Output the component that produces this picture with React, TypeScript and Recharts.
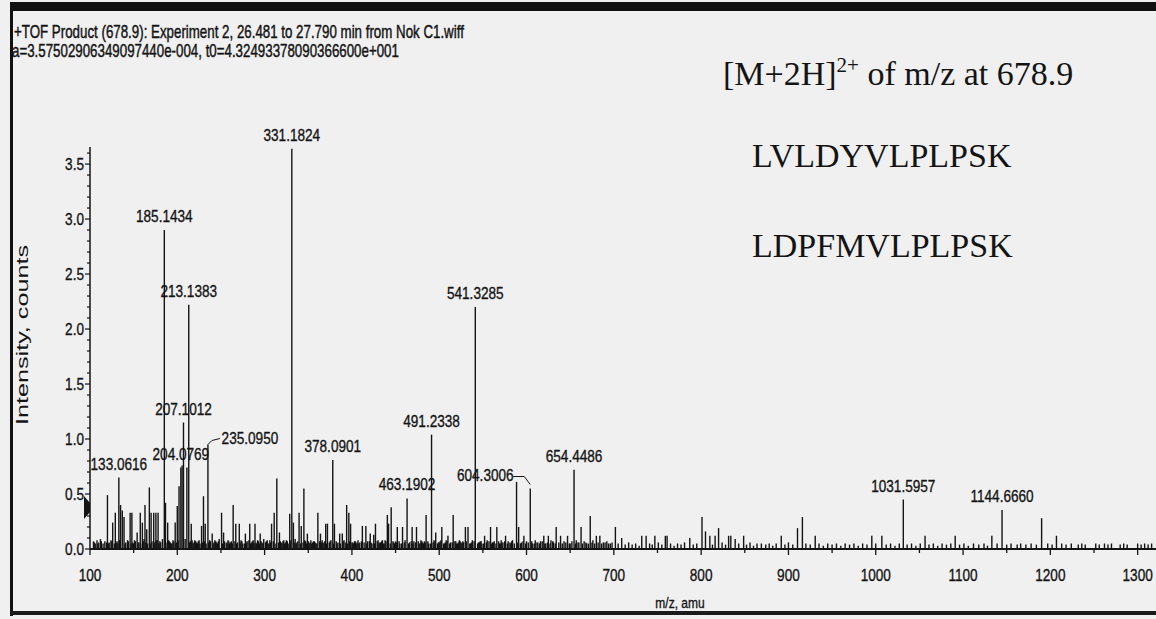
import React from "react";
import { ComposedChart, Bar, XAxis, YAxis, LabelList } from "recharts";

// labelled fragment ions (m/z, intensity in counts)
const labelledMz = [
  133.0616, 185.1434, 204.0769, 207.1012, 213.1383, 235.095, 331.1824, 378.0901,
  463.1902, 491.2338, 541.3285, 604.3006, 654.4486, 1031.5957, 1144.666,
];
const labelledIntensity = [
  0.65, 2.9, 0.74, 1.15, 2.22, 0.95, 3.64, 0.81, 0.46, 1.04, 2.2, 0.55, 0.72, 0.45, 0.355,
];
const labelledText = [
  "133.0616", "185.1434", "204.0769", "207.1012", "213.1383", "235.0950", "331.1824", "378.0901",
  "463.1902", "491.2338", "541.3285", "604.3006", "654.4486", "1031.5957", "1144.6660",
];

// unlabelled peaks [m/z, intensity]
const minorPeaks: [number, number][] = [
  [120, 0.49], [126, 0.24], [129, 0.33], [135, 0.4], [137, 0.35], [139, 0.29], [146, 0.33],
  [148, 0.33], [154, 0.15], [157.6, 0.33], [160, 0.24], [163, 0.4], [165, 0.18], [168, 0.56],
  [170, 0.33], [173, 0.33], [175.5, 0.33], [178, 0.33], [186.5, 0.42], [189, 0.24], [197.6, 0.24],
  [200, 0.39], [202, 0.57], [205.5, 0.76], [211, 0.74], [216, 0.23], [227.8, 0.21], [230, 0.48],
  [232, 0.23], [240, 0.14], [250.7, 0.33], [253, 0.15], [264, 0.4], [267, 0.23], [271, 0.23],
  [278, 0.14], [283, 0.23], [289, 0.23], [295, 0.14], [308, 0.23], [311, 0.33], [314, 0.64],
  [317, 0.15], [328.8, 0.32], [333, 0.24], [339.5, 0.33], [342, 0.21], [345, 0.55], [349, 0.14],
  [361, 0.33], [364, 0.14], [370, 0.23], [372, 0.23], [380, 0.23], [386, 0.14], [389, 0.14],
  [394, 0.4], [396.5, 0.33], [398.5, 0.23], [412, 0.21], [416, 0.21], [421, 0.14], [425, 0.13],
  [427, 0.23], [440.6, 0.31], [442, 0.23], [445, 0.38], [452, 0.2], [458, 0.2], [469, 0.2],
  [474, 0.2], [485, 0.31], [496, 0.15], [503, 0.2], [510, 0.12], [516, 0.31], [530, 0.2],
  [533, 0.2], [552, 0.12], [558.8, 0.2], [566, 0.2], [576, 0.12], [588.6, 0.61], [591, 0.2],
  [597, 0.12], [619.8, 0.12], [625, 0.12], [634, 0.2], [639, 0.12], [647, 0.12], [662.5, 0.2],
  [673, 0.3], [680, 0.12], [684, 0.12], [701.8, 0.2], [709, 0.1], [732, 0.12], [737, 0.12],
  [747, 0.12], [759, 0.12], [761, 0.12], [787, 0.1], [801, 0.29], [805, 0.16], [810, 0.12],
  [816, 0.12], [820, 0.19], [831.5, 0.12], [834, 0.12], [839, 0.09], [848.7, 0.12], [869, 0.05],
  [891.8, 0.12], [910.4, 0.19], [916, 0.29], [930.7, 0.12], [995.5, 0.12], [1007, 0.12],
  [1056.5, 0.12], [1091, 0.12], [1133, 0.12], [1190, 0.28], [1207, 0.12],
];

// baseline noise [m/z, intensity]
const noisePeaks: [number, number][] = [
  [104, 0.07], [106, 0.05], [108, 0.08], [110, 0.06], [112, 0.09], [115, 0.05], [117, 0.07],
  [122, 0.06], [124, 0.08], [128, 0.05], [131, 0.07], [141, 0.06], [143, 0.08], [150, 0.05],
  [152, 0.07], [156, 0.06], [162, 0.09], [166, 0.05], [171, 0.07], [177, 0.08], [181, 0.06],
  [183, 0.09], [191, 0.07], [193, 0.05], [195, 0.08], [199, 0.06], [209, 0.09], [215, 0.07],
  [218, 0.05], [220, 0.08], [222, 0.06], [224, 0.07], [226, 0.05], [237, 0.08], [242, 0.06],
  [244, 0.07], [246, 0.05], [248, 0.09], [256, 0.06], [258, 0.08], [260, 0.05], [262, 0.07],
  [269, 0.06], [273, 0.08], [275, 0.05], [280, 0.07], [285, 0.06], [287, 0.08], [291, 0.05],
  [293, 0.07], [297, 0.06], [299, 0.09], [302, 0.07], [304, 0.05], [306, 0.08], [319, 0.06],
  [321, 0.07], [323, 0.05], [325, 0.08], [335, 0.09], [337, 0.06], [347, 0.07], [351, 0.05],
  [353, 0.08], [355, 0.06], [357, 0.07], [359, 0.05], [366, 0.08], [368, 0.06], [375, 0.07],
  [383, 0.05], [391, 0.08], [401, 0.06], [403, 0.07], [405, 0.05], [407, 0.08], [409, 0.06],
  [418, 0.07], [423, 0.05], [430, 0.08], [432, 0.06], [434, 0.07], [436, 0.05], [438, 0.08],
  [448, 0.06], [450, 0.07], [455, 0.05], [461, 0.08], [466, 0.06], [471, 0.07], [477, 0.05],
  [479, 0.08], [481, 0.06], [483, 0.07], [488, 0.05], [494, 0.08], [499, 0.06], [501, 0.07],
  [506, 0.05], [508, 0.08], [513, 0.06], [519, 0.07], [521, 0.05], [523, 0.08], [525, 0.06],
  [527, 0.07], [536, 0.05], [538, 0.08], [545, 0.06], [547, 0.07], [549, 0.05], [555, 0.08],
  [561, 0.06], [563, 0.07], [569, 0.05], [571, 0.08], [573, 0.06], [579, 0.07], [582, 0.05],
  [584, 0.08], [594, 0.06], [600, 0.07], [607, 0.05], [610, 0.08], [613, 0.06], [616, 0.07],
  [622, 0.05], [628, 0.08], [631, 0.06], [643, 0.07], [650, 0.05], [657, 0.08], [660, 0.06],
  [666, 0.07], [669, 0.05], [676, 0.08], [688, 0.06], [692, 0.07], [696, 0.05],
  [705, 0.05], [713, 0.04], [717, 0.06], [721, 0.04], [725, 0.05], [729, 0.03], [741, 0.05],
  [744, 0.04], [751, 0.06], [755, 0.04], [765, 0.05], [769, 0.03], [773, 0.05], [777, 0.04],
  [781, 0.06], [791, 0.04], [795, 0.05], [813, 0.04], [824, 0.06], [828, 0.04], [843, 0.05],
  [852, 0.04], [856, 0.06], [860, 0.03], [864, 0.05], [874, 0.04], [878, 0.05], [882, 0.03],
  [886, 0.05], [896, 0.04], [900, 0.06], [905, 0.04], [920, 0.05], [925, 0.04], [935, 0.05],
  [940, 0.03], [945, 0.05], [950, 0.04], [955, 0.05], [960, 0.03], [965, 0.05], [970, 0.04],
  [975, 0.05], [980, 0.03], [985, 0.05], [990, 0.04], [1000, 0.05], [1012, 0.04], [1017, 0.05],
  [1022, 0.03], [1027, 0.05], [1036, 0.04], [1041, 0.05], [1046, 0.03], [1051, 0.05],
  [1061, 0.04], [1066, 0.05], [1071, 0.03], [1076, 0.05], [1081, 0.04], [1086, 0.05],
  [1096, 0.04], [1101, 0.05], [1106, 0.03], [1112, 0.05], [1118, 0.04], [1124, 0.05],
  [1128, 0.03], [1139, 0.05], [1150, 0.04], [1155, 0.05], [1162, 0.04], [1166, 0.05],
  [1172, 0.04], [1178, 0.05], [1184, 0.04], [1197, 0.05], [1202, 0.04], [1213, 0.05],
  [1218, 0.04], [1224, 0.05], [1232, 0.04], [1236, 0.05], [1240, 0.04], [1252, 0.05],
  [1256, 0.04], [1262, 0.05], [1266, 0.04], [1270, 0.05], [1280, 0.04], [1284, 0.05],
  [1288, 0.04], [1300, 0.05], [1304, 0.04], [1308, 0.05], [1312, 0.04], [1316, 0.05],
];

// denser noise in the low-mass region
const lowMassNoise: [number, number][] = [
  [105, 0.06], [109, 0.05], [113, 0.07], [119, 0.06], [121, 0.05], [125, 0.07], [130, 0.06],
  [132, 0.05], [134, 0.08], [140, 0.05], [144, 0.07], [147, 0.05], [149, 0.06], [151, 0.08],
  [155, 0.06], [158, 0.05], [161, 0.07], [164, 0.06], [169, 0.05], [174, 0.06], [176, 0.08],
  [179, 0.05], [180, 0.07], [187, 0.06], [190, 0.08], [192, 0.06], [194, 0.05], [196, 0.07],
  [198, 0.05], [201, 0.08], [214, 0.06], [217, 0.08], [219, 0.06], [221, 0.07], [223, 0.05],
  [225, 0.08], [229, 0.06], [231, 0.07], [233, 0.05], [236, 0.06], [238, 0.07], [241, 0.05],
  [243, 0.08], [245, 0.06], [247, 0.07], [252, 0.05], [254, 0.07], [257, 0.05], [259, 0.07],
  [261, 0.06], [263, 0.05], [266, 0.07], [268, 0.05], [272, 0.06], [274, 0.07], [277, 0.05],
  [279, 0.06], [282, 0.08], [284, 0.05], [286, 0.07], [288, 0.05], [290, 0.06], [292, 0.08],
  [294, 0.05], [296, 0.07], [298, 0.05], [301, 0.06], [303, 0.08], [305, 0.05], [307, 0.06],
  [310, 0.07], [313, 0.05], [316, 0.06], [318, 0.07], [320, 0.05], [322, 0.08], [324, 0.06],
  [326, 0.07], [327, 0.05], [330, 0.08], [334, 0.06], [336, 0.05], [338, 0.07], [341, 0.05],
  [344, 0.06], [346, 0.08], [348, 0.05], [350, 0.07], [352, 0.06], [354, 0.05], [356, 0.07],
  [358, 0.06], [360, 0.05], [363, 0.07], [365, 0.06], [367, 0.05], [369, 0.07], [371, 0.05],
  [374, 0.06], [376, 0.08], [379, 0.05], [382, 0.07], [384, 0.06], [387, 0.05], [390, 0.07],
  [393, 0.06], [395, 0.05], [397, 0.07], [400, 0.06], [402, 0.05], [404, 0.07], [406, 0.06],
  [408, 0.05], [411, 0.07], [414, 0.06], [417, 0.05], [420, 0.07], [422, 0.06], [426, 0.05],
  [429, 0.07], [431, 0.05], [433, 0.06], [435, 0.08], [437, 0.05], [439, 0.07], [444, 0.05],
  [447, 0.07], [449, 0.05], [451, 0.06], [454, 0.07], [457, 0.05], [460, 0.06], [465, 0.05],
  [468, 0.07], [470, 0.05], [473, 0.06], [476, 0.07], [478, 0.05], [480, 0.07], [482, 0.05],
  [484, 0.06], [487, 0.07], [490, 0.05], [493, 0.06], [495, 0.07], [498, 0.05], [500, 0.06],
  [502, 0.08], [505, 0.05], [507, 0.06], [509, 0.07], [512, 0.05], [515, 0.06], [518, 0.07],
  [520, 0.05], [522, 0.06], [524, 0.07], [526, 0.05], [528, 0.06], [531, 0.07], [535, 0.05],
  [537, 0.06], [540, 0.07], [544, 0.05], [546, 0.06], [548, 0.07], [551, 0.05], [554, 0.06],
  [557, 0.07], [560, 0.05], [562, 0.06], [565, 0.05], [568, 0.07], [570, 0.05], [572, 0.06],
  [575, 0.07], [578, 0.05], [581, 0.06], [583, 0.07], [586, 0.05], [590, 0.06], [593, 0.05],
  [596, 0.07], [599, 0.05], [602, 0.06], [606, 0.07], [609, 0.05], [612, 0.06], [615, 0.05],
  [618, 0.07], [621, 0.05], [624, 0.06], [627, 0.05], [630, 0.07], [633, 0.05], [637, 0.06],
  [641, 0.05], [645, 0.06], [649, 0.05], [652, 0.07], [656, 0.05], [659, 0.06], [664, 0.05],
  [668, 0.06], [671, 0.05], [675, 0.06], [678, 0.05], [682, 0.06], [686, 0.05], [690, 0.06],
  [694, 0.05], [698, 0.06],
];

const xTicks = [100, 150, 200, 250, 300, 350, 400, 450, 500, 550, 600, 650, 700, 750, 800, 850, 900, 950, 1000, 1050, 1100, 1150, 1200, 1250, 1300];
const yTicks = [0, 0.1, 0.2, 0.3, 0.4, 0.5, 0.6, 0.7, 0.8, 0.9, 1.0, 1.1, 1.2, 1.3, 1.4, 1.5, 1.6, 1.7, 1.8, 1.9, 2.0, 2.1, 2.2, 2.3, 2.4, 2.5, 2.6, 2.7, 2.8, 2.9, 3.0, 3.1, 3.2, 3.3, 3.4, 3.5, 3.6];

const headerLine1 = "+TOF Product (678.9): Experiment 2, 26.481 to 27.790 min from Nok C1.wiff";
const headerLine2 = "a=3.57502906349097440e-004, t0=4.32493378090366600e+001";
const sequences = ["LVLDYVLPLPSK", "LDPFMVLPLPSK"];

type Peak = { mz: number; intensity: number; label?: string };

const peaks: Peak[] = [
  ...labelledMz.map((mz, i) => ({ mz, intensity: labelledIntensity[i], label: labelledText[i] })),
  ...minorPeaks.map(([mz, intensity]) => ({ mz, intensity })),
  ...noisePeaks.map(([mz, intensity]) => ({ mz, intensity })),
  ...lowMassNoise.map(([mz, intensity]) => ({ mz, intensity })),
].sort((a, b) => a.mz - b.mz);

const INK = "#141414";
const SANS = "'Liberation Sans', Arial, sans-serif";
const SERIF = "'Liberation Serif', 'Times New Roman', serif";

// condensed sans text (the scan squeezes the instrument font)
const NText = ({ x, y, size, anchor = "start", sx = 0.8, heavy = 0.35, children }: any) => (
  <text
    transform={`translate(${x},${y}) scale(${sx},1)`}
    fontSize={size}
    fontFamily={SANS}
    textAnchor={anchor}
    fill={INK}
    stroke={INK}
    strokeWidth={heavy}
  >
    {children}
  </text>
);

const Stick = (props: any) => {
  const { x, y, width, height } = props;
  if (x == null || y == null || !height) return null;
  const cx = x + width / 2;
  return <line x1={cx} y1={y} x2={cx} y2={y + height} stroke={INK} strokeWidth={1.4} />;
};

// labels that sit beside their peak, with a leader line
const labelNudge: Record<string, { dx: number; dy: number }> = {
  "235.0950": { dx: 42, dy: 7 },
  "604.3006": { dx: -45, dy: 0 },
};

const PeakLabel = (props: any) => {
  const { value } = props;
  if (!value) return null;
  const vb = props.viewBox ?? props;
  const cx = vb.x + vb.width / 2;
  const top = vb.y;
  const n = labelNudge[value] ?? { dx: 0, dy: 0 };
  const tx = cx + n.dx;
  const ty = top - 14 + n.dy;
  let leader = null;
  if (n.dx > 0) {
    leader = <polyline points={`${cx},${top} ${cx + 4},${ty + 3} ${tx - 30},${ty + 1}`} fill="none" stroke={INK} strokeWidth={1} />;
  } else if (n.dx < 0) {
    leader = <polyline points={`${tx + 28},${ty + 2} ${cx - 6},${ty + 2} ${cx},${top - 4}`} fill="none" stroke={INK} strokeWidth={1} />;
  }
  return (
    <g>
      {leader}
      <NText x={tx} y={ty + 6} size={17} anchor="middle">{value}</NText>
    </g>
  );
};

const XTick = (props: any) => {
  const { x, y, payload } = props;
  const major = payload.value % 100 === 0;
  return (
    <g>
      <line x1={x} y1={y} x2={x} y2={y + (major ? 6 : 4)} stroke={INK} strokeWidth={1.3} />
      {major && <NText x={x} y={y + 32} size={17} anchor="middle">{payload.value}</NText>}
    </g>
  );
};

const YTick = (props: any) => {
  const { x, y, payload } = props;
  const v = payload.value;
  const major = Math.abs(v * 2 - Math.round(v * 2)) < 1e-6;
  return (
    <g>
      <line x1={x} y1={y} x2={x - (major ? 5 : 3)} y2={y} stroke={INK} strokeWidth={1.2} />
      {major && <NText x={x - 6} y={y + 6} size={17} anchor="end">{v.toFixed(1)}</NText>}
    </g>
  );
};

export default function App() {
  return (
    <div style={{ position: "absolute", left: 0, top: 0, width: 1156, height: 619, background: "#f0f0f0", overflow: "hidden" }}>
      <ComposedChart
        width={1156}
        height={619}
        data={peaks}
        margin={{ top: 147, right: 0, bottom: 0, left: 0 }}
      >
        <XAxis
          type="number"
          dataKey="mz"
          domain={[100, 1321]}
          allowDataOverflow
          ticks={xTicks}
          interval={0}
          height={70}
          tickSize={0}
          tickMargin={0}
          tickLine={false}
          tick={<XTick />}
          axisLine={{ stroke: INK, strokeWidth: 2 }}
        />
        <YAxis
          type="number"
          domain={[0, 3.655]}
          allowDataOverflow
          ticks={yTicks}
          interval={0}
          width={90}
          tickSize={0}
          tickMargin={0}
          tickLine={false}
          tick={<YTick />}
          axisLine={{ stroke: INK, strokeWidth: 1.5 }}
        />
        <Bar dataKey="intensity" barSize={2} shape={<Stick />} isAnimationActive={false}>
          <LabelList dataKey="label" content={PeakLabel} />
        </Bar>
      </ComposedChart>

      <svg width={1156} height={619} style={{ position: "absolute", left: 0, top: 0, pointerEvents: "none" }}>
        {/* scanned window frame */}
        <rect x={10} y={2} width={1146} height={9} fill="#111" />
        <rect x={10} y={2} width={3} height={614} fill="#111" />
        <rect x={10} y={611} width={1146} height={4} fill="#1a1a1a" />

        <NText x={14} y={38} size={18} sx={0.74} heavy={0.45}>{headerLine1}</NText>
        <NText x={12} y={57} size={18} sx={0.74} heavy={0.45}>{headerLine2}</NText>

        <text x={723} y={85} fontFamily={SERIF} fontSize={34} fill={INK}>
          [M+2H]
          <tspan dy={-13} fontSize={21}>2+</tspan>
          <tspan dy={13} fontSize={34}> of m/z at 678.9</tspan>
        </text>
        <text x={752} y={167} fontFamily={SERIF} fontSize={34} fill={INK}>{sequences[0]}</text>
        <text x={752} y={257} fontFamily={SERIF} fontSize={34} fill={INK}>{sequences[1]}</text>

        {/* axis titles */}
        <text
          transform="translate(28,335) rotate(-90)"
          fontFamily={SANS}
          fontSize={17}
          textAnchor="middle"
          textLength={180}
          lengthAdjust="spacingAndGlyphs"
          fill={INK}
        >
          Intensity, counts
        </text>
        <NText x={680} y={608} size={15} anchor="middle">m/z, amu</NText>

        {/* precursor marker */}
        <polygon points="84,496 90,503 90,512 84,519" fill={INK} />
      </svg>
    </div>
  );
}
